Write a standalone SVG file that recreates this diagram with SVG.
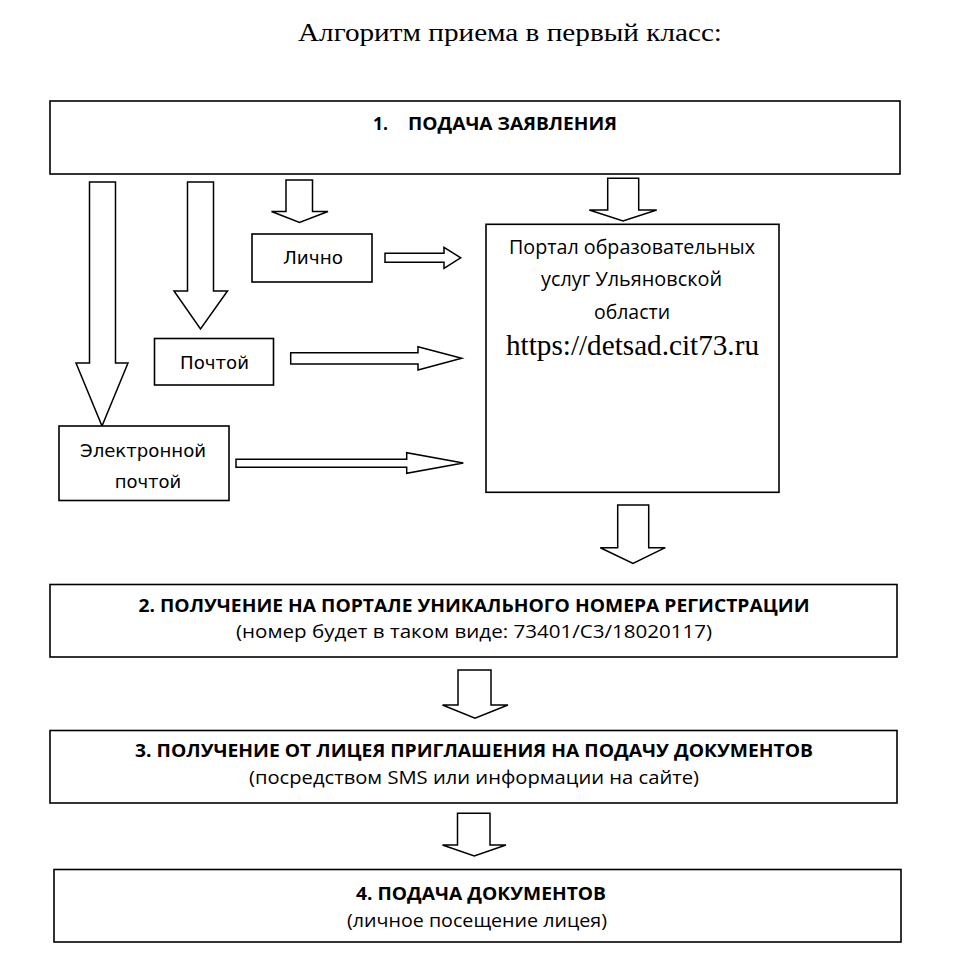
<svg xmlns="http://www.w3.org/2000/svg" width="967" height="956" viewBox="0 0 967 956">
<style>
.box{fill:#fff;stroke:#000;stroke-width:1.6}
.arr{fill:#fff;stroke:#000;stroke-width:1.5;stroke-linejoin:miter}
.title{font-family:"Liberation Serif","Times New Roman",serif;font-size:25px;fill:#000}
.url{font-family:"Liberation Serif","Times New Roman",serif;font-size:29px;fill:#000}
.cb{font-family:"Open Sans","Noto Sans",sans-serif;font-weight:bold;font-size:17.5px;fill:#000}
.cr{font-family:"Open Sans","Noto Sans",sans-serif;font-size:19px;fill:#000}
.pr{font-family:"Open Sans","Noto Sans",sans-serif;font-size:19.5px;fill:#000}
.dj{font-family:"DejaVu Sans","Verdana",sans-serif;font-size:18px;fill:#000}
</style>
<rect width="967" height="956" fill="#fff"/>
<text class="title" x="298" y="40.5" textLength="424" lengthAdjust="spacingAndGlyphs">Алгоритм приема в первый класс:</text>

<g id="connectors">
<path class="arr" d="M89.5,182 H115.5 V363 H128 L102,426 L76,363 H89.5 Z"/>
<path class="arr" d="M187.5,182 H213.5 V291 H227.5 L200.5,329 L174,291 H187.5 Z"/>
<path class="arr" d="M286,180 H312.5 V211.5 H328 L299.5,222.5 L271.5,211.5 H286 Z"/>
<path class="arr" d="M607.7,178.3 H638.7 V210 H656.7 L623,221 L589.3,210 H607.7 Z"/>
<path class="arr" d="M617.7,505 H648.7 V547.7 H665.3 L633,563.5 L600.3,547.7 H617.7 Z"/>
<path class="arr" d="M458,670 H491 V705 H508 L475,718.3 L442.5,705 H458 Z"/>
<path class="arr" d="M457.5,813.3 H490 V845 H506 L474.3,856 L442.5,845 H457.5 Z"/>
<path class="arr" d="M385,253.3 H444 V247.3 L460.7,257.8 L444,268.3 V262.3 H385 Z"/>
<path class="arr" d="M290.7,352.7 H418 V346.7 L461.7,358.3 L418,370 V364 H290.7 Z"/>
<path class="arr" d="M236,459.3 H406.7 V452.7 L463.3,463 L406.7,473.3 V467.3 H236 Z"/>
</g>

<g id="step1">
<rect class="box" x="50" y="101" width="850" height="73"/>
<text class="cb" x="373" y="129.5">1.</text>
<text class="cb" x="408" y="129.5" textLength="209" lengthAdjust="spacingAndGlyphs">ПОДАЧА ЗАЯВЛЕНИЯ</text>
</g>

<g id="lichno">
<rect class="box" x="252" y="234" width="120" height="48"/>
<text class="dj" x="283" y="264" textLength="60" lengthAdjust="spacingAndGlyphs">Лично</text>
</g>

<g id="pochtoy">
<rect class="box" x="154.5" y="338.5" width="119" height="46.5"/>
<text class="dj" x="180" y="368.5" textLength="69" lengthAdjust="spacingAndGlyphs">Почтой</text>
</g>

<g id="email">
<rect class="box" x="59" y="426" width="170" height="74.5"/>
<text class="dj" x="80" y="456.7" textLength="126" lengthAdjust="spacingAndGlyphs">Электронной</text>
<text class="dj" x="148" y="488" text-anchor="middle">почтой</text>
</g>

<g id="portal">
<rect class="box" x="486" y="224.3" width="293" height="268"/>
<text class="pr" x="632" y="254" text-anchor="middle" textLength="246" lengthAdjust="spacingAndGlyphs">Портал образовательных</text>
<text class="pr" x="631.5" y="285.5" text-anchor="middle" textLength="181" lengthAdjust="spacingAndGlyphs">услуг Ульяновской</text>
<text class="pr" x="632" y="318.5" text-anchor="middle" textLength="76" lengthAdjust="spacingAndGlyphs">области</text>
<text class="url" x="506" y="355" textLength="253" lengthAdjust="spacingAndGlyphs">https://detsad.cit73.ru</text>
</g>

<g id="step2">
<rect class="box" x="50" y="584.5" width="847" height="72.5"/>
<text class="cb" x="474" y="611.7" text-anchor="middle" textLength="671" lengthAdjust="spacingAndGlyphs">2. ПОЛУЧЕНИЕ НА ПОРТАЛЕ УНИКАЛЬНОГО НОМЕРА РЕГИСТРАЦИИ</text>
<text class="cr" x="474" y="638" text-anchor="middle" textLength="476" lengthAdjust="spacingAndGlyphs">(номер будет в таком виде: 73401/С3/18020117)</text>
</g>

<g id="step3">
<rect class="box" x="50" y="730.5" width="847" height="72.5"/>
<text class="cb" x="474" y="757.3" text-anchor="middle" textLength="678" lengthAdjust="spacingAndGlyphs">3. ПОЛУЧЕНИЕ ОТ ЛИЦЕЯ ПРИГЛАШЕНИЯ НА ПОДАЧУ ДОКУМЕНТОВ</text>
<text class="cr" x="474" y="784" text-anchor="middle" textLength="450" lengthAdjust="spacingAndGlyphs">(посредством SMS или информации на сайте)</text>
</g>

<g id="step4">
<rect class="box" x="54" y="869.5" width="847" height="72.5"/>
<text class="cb" x="481" y="900" text-anchor="middle" textLength="250" lengthAdjust="spacingAndGlyphs">4. ПОДАЧА ДОКУМЕНТОВ</text>
<text class="cr" x="477" y="926.5" text-anchor="middle" textLength="260" lengthAdjust="spacingAndGlyphs">(личное посещение лицея)</text>
</g>
</svg>
